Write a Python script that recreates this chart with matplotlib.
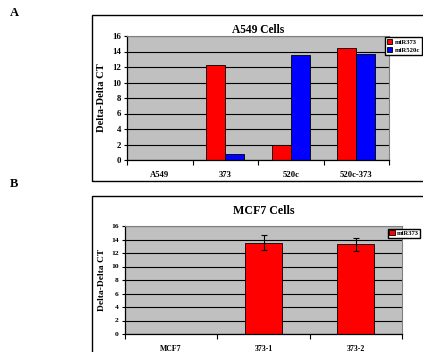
import matplotlib
matplotlib.use("Agg")
import matplotlib.pyplot as plt
import numpy as np
from matplotlib.patches import Rectangle

# A549 expression data
a549_groups = ["A549", "373", "520c", "520c-373"]
a549_mir373 = [0, 12.3, 1.9, 14.5]
a549_mir520c = [0, 0.8, 13.6, 13.7]

# MCF7 expression data
mcf7_groups = ["MCF7", "373-1", "373-2"]
mcf7_mir373 = [0, 13.5, 13.3]
mcf7_err = [0, 1.1, 0.95]

W, H = 423, 352
plt.rcParams['font.family'] = ['Liberation Serif', 'DejaVu Serif']
plt.rcParams['font.weight'] = 'bold'

fig = plt.figure(figsize=(W / 100, H / 100), dpi=100)


def px_axes(x0, y0, x1, y1):
    # axes from pixel box (top-left origin)
    return fig.add_axes([x0 / W, 1 - y1 / H, (x1 - x0) / W, (y1 - y0) / H])


def chart_frame(x0, y0, x1, y1):
    fig.patches.append(Rectangle((x0 / W, 1 - y1 / H), (x1 - x0) / W, (y1 - y0) / H,
                                 transform=fig.transFigure, fill=False,
                                 edgecolor='black', linewidth=1.0, clip_on=False))


def style_axes(ax, n, fs_x, fs_y, fs_lab):
    ax.set_facecolor('#c0c0c0')
    ax.set_xlim(0, n)
    ax.set_ylim(0, 16)
    ax.set_yticks(np.arange(0, 17, 2))
    ax.yaxis.grid(True, color='black', linewidth=0.8)
    ax.set_axisbelow(True)
    ax.set_xticks(np.arange(n + 1))
    ax.set_xticklabels([])
    ax.set_xticks(np.arange(n) + 0.5, minor=True)
    ax.tick_params(axis='x', which='major', length=3.5, width=0.8, direction='out')
    ax.tick_params(axis='x', which='minor', length=0, labelsize=fs_x, pad=8)
    ax.tick_params(axis='y', length=2.5, width=0.8, labelsize=fs_y, pad=2)
    for s in ['top', 'right']:
        ax.spines[s].set_color('#808080')
        ax.spines[s].set_linewidth(0.8)
    for s in ['left', 'bottom']:
        ax.spines[s].set_color('black')
        ax.spines[s].set_linewidth(0.9)
    ax.set_ylabel("Delta-Delta CT", fontsize=fs_lab, fontweight='bold', labelpad=4)


# Panel A
chart_frame(92, 15, 440, 181)
axA = px_axes(127, 36, 389, 160)
style_axes(axA, 4, 6.2, 6.3, 7.6)
x = np.arange(len(a549_groups)) + 0.5
bw = 0.29
axA.bar(x - bw / 2, a549_mir373, bw, color='#ff0000', edgecolor='black', linewidth=0.6, label='miR373')
axA.bar(x + bw / 2, a549_mir520c, bw, color='#0000ff', edgecolor='black', linewidth=0.6, label='miR520c')
axA.set_xticklabels(a549_groups, minor=True)
axA.set_title("A549 Cells", fontsize=8.3, fontweight='bold', pad=2)
axA.legend(loc='upper left', bbox_to_anchor=(385 / W, 1 - 37 / H), bbox_transform=fig.transFigure,
           fontsize=4.8, frameon=True, fancybox=False, edgecolor='black', framealpha=1,
           handlelength=0.8, handleheight=0.8, handletextpad=0.3, borderpad=0.3,
           labelspacing=0.3, borderaxespad=0)

# Panel B
chart_frame(92, 196, 440, 370)
axB = px_axes(125, 226, 402, 334)
style_axes(axB, 3, 5.6, 5.4, 6.8)
xb = np.arange(len(mcf7_groups)) + 0.5
axB.bar(xb, mcf7_mir373, 0.4, color='#ff0000', edgecolor='black', linewidth=0.6, label='miR373')
axB.errorbar(xb[1:], mcf7_mir373[1:], yerr=mcf7_err[1:], fmt='none', ecolor='black',
             elinewidth=0.8, capsize=2.5, capthick=0.8)
axB.set_xticklabels(mcf7_groups, minor=True)
axB.set_title("MCF7 Cells", fontsize=8.6, fontweight='bold', pad=9)
axB.legend(loc='upper left', bbox_to_anchor=(388 / W, 1 - 229 / H), bbox_transform=fig.transFigure,
           fontsize=4.8, frameon=True, fancybox=False, edgecolor='black', framealpha=1,
           handlelength=0.8, handleheight=0.8, handletextpad=0.3, borderpad=0.2,
           borderaxespad=0)

fig.text(10 / W, 1 - 13 / H, "A", fontsize=9, fontweight='bold', va='center', ha='left')
fig.text(10 / W, 1 - 184 / H, "B", fontsize=9, fontweight='bold', va='center', ha='left')

fig.savefig("out.png", dpi=100)
